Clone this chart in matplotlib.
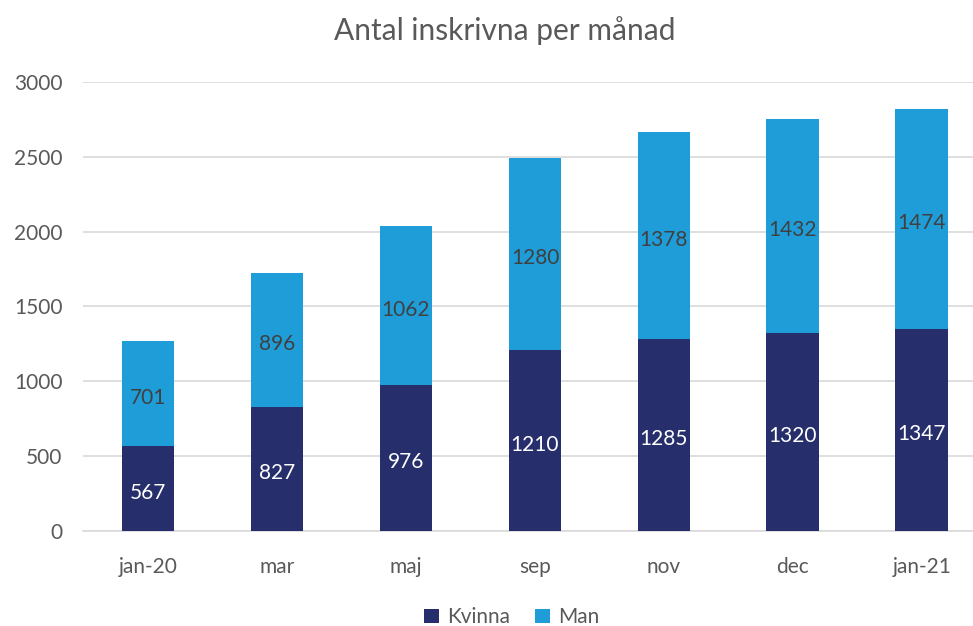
import matplotlib
matplotlib.use("Agg")
import numpy as np
from matplotlib import pyplot as plt

plt.rcParams['font.family'] = ['Lato', 'DejaVu Sans']

# data
months = ["jan-20", "mar", "maj", "sep", "nov", "dec", "jan-21"]
kvinna = [567, 827, 976, 1210, 1285, 1320, 1347]
man = [701, 896, 1062, 1280, 1378, 1432, 1474]

c_kvinna = "#262E6B"
c_man = "#1F9DD9"
txt = "#595959"

fig = plt.figure(figsize=(9.73, 6.26), dpi=100)
# axes runs a bit past the right edge, like the original
ax = fig.add_axes([0.0858, 0.1518, 0.928, 0.7172])

x = np.arange(len(months))
w = 0.41
b1 = ax.bar(x, kvinna, w, color=c_kvinna, label="Kvinna", zorder=3)
b2 = ax.bar(x, man, w, bottom=kvinna, color=c_man, label="Man", zorder=3)

ax.bar_label(b1, labels=[str(v) for v in kvinna], label_type="center",
             color="white", fontsize=15, padding=-3)
ax.bar_label(b2, labels=[str(v) for v in man], label_type="center",
             color="#404040", fontsize=15, padding=-3)

ax.set_xlim(-0.5, len(months) - 0.5)
ax.set_ylim(0, 3000)
ax.set_yticks(np.arange(0, 3001, 500))
ax.set_xticks(x)
ax.set_xticklabels(months)
ax.grid(axis="y", color="#D9D9D9", linewidth=1.2, zorder=0)
for s in ["top", "right", "left"]:
    ax.spines[s].set_visible(False)
ax.spines["bottom"].set_color("#D9D9D9")
ax.spines["bottom"].set_linewidth(1.2)
ax.tick_params(axis="both", length=0, labelsize=15, colors=txt)
ax.tick_params(axis="y", pad=15)
ax.tick_params(axis="x", pad=19)

fig.text(0.519, 0.952, "Antal inskrivna per månad", ha="center", va="center",
         fontsize=21.5, color=txt)

fig.legend(loc="center", bbox_to_anchor=(0.526, 0.014), ncol=2, frameon=False,
           fontsize=15, labelcolor=txt, handlelength=0.7, handleheight=0.7,
           columnspacing=1.2, handletextpad=0.4)

fig.savefig("out.png", dpi=100)
